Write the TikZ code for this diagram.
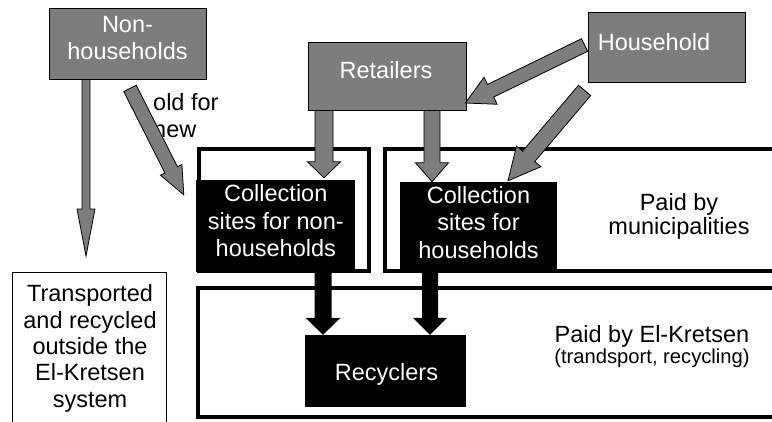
\documentclass[tikz,border=0pt]{standalone}
\usepackage{fontspec}
\setmainfont{Liberation Sans}
\usetikzlibrary{calc}
\definecolor{boxgray}{gray}{0.49}
\newcommand\fatarrow[6][]{%
  \coordinate (fab) at ($(#3)!#6!(#2)$);
  \path[#1] ($(#2)!#4!90:(#3)$) -- ($(fab)!#4!-90:(#2)$) -- ($(fab)!#5!-90:(#2)$) -- (#3) -- ($(fab)!#5!90:(#2)$) -- ($(fab)!#4!90:(#2)$) -- ($(#2)!#4!-90:(#3)$) -- cycle;}
\tikzset{
  graybox/.style={draw=black, line width=0.8bp, fill=boxgray, inner sep=0pt},
  blackbox/.style={fill=black, inner sep=0pt},
  frame/.style={draw=black, line width=4bp, inner sep=0pt},
  lbl/.style={inner sep=0pt, align=center, font=\fontsize{23.5bp}{27.5bp}\selectfont},
  wlbl/.style={lbl, text=white},
  grayarrow/.style={draw=black, line width=0.8bp, fill=boxgray},
  blackarrow/.style={fill=black}
}
\begin{document}
\begin{tikzpicture}[x=1bp,y=-1bp]
\useasboundingbox (0,0) rectangle (772,421);
\fill[white] (0,0) rectangle (772,421);
% region frames
\node[frame, minimum width=170bp, minimum height=122bp] (fr1) at (284,210) {};
\node[frame, minimum width=400bp, minimum height=122bp] (fr2) at (585,210) {};
\node[frame, minimum width=590bp, minimum height=129.5bp] (fr3) at (493.5,352.25) {};
\node[draw, line width=0.8bp, minimum width=154bp, minimum height=170bp, anchor=north, inner sep=0pt] (tr) at (89,272) {};
% boxes
\node[graybox, minimum width=157bp, minimum height=71bp] (nh) at (127.5,43.5) {};
\node[graybox, minimum width=158bp, minimum height=68bp] (ret) at (387,76) {};
\node[graybox, minimum width=157bp, minimum height=70bp] (hh) at (666.5,47) {};
\node[blackbox, minimum width=159bp, minimum height=92bp] (colnon) at (275.5,226) {};
\node[blackbox, minimum width=157bp, minimum height=91bp] (colhh) at (478.5,227.5) {};
\node[blackbox, minimum width=161bp, minimum height=72bp] (rec) at (385.5,371) {};
% texts
\node[wlbl, anchor=north] (nht) at (127.5,16) {Non-\\households};
\node[wlbl, anchor=base] (rett) at (386,78) {Retailers};
\node[wlbl, anchor=base] (hht) at (654,50) {Household};
\node[wlbl, anchor=north] (colnont) at (275.8,184.6) {Collection\\sites for non-\\households};
\node[wlbl, anchor=north] (colhht) at (478.5,186) {Collection\\sites for\\households};
\node[wlbl, anchor=base] (rect) at (386.5,380) {Recyclers};
\node[lbl, anchor=north west, align=left] (oldnew) at (153,93) {old for\\new};
\node[lbl, anchor=north, font=\fontsize{23.5bp}{24bp}\selectfont] (pm) at (679,193) {Paid by\\municipalities};
\node[lbl, anchor=base] (pe) at (652,342) {Paid by El-Kretsen};
\node[lbl, anchor=base, font=\fontsize{20.2bp}{22bp}\selectfont] (pe2) at (652,363) {(trandsport, recycling)};
\node[lbl, anchor=north, font=\fontsize{23.5bp}{26.3bp}\selectfont] (trt) at (90,284.6) {Transported\\and recycled\\outside the\\El-Kretsen\\system};
% connector end points
\coordinate (a1s) at ($(nh.south)+(-41.5,0)$);
\coordinate (a1e) at ($(tr.north)+(-3,-16)$);
\coordinate (a2s) at ($(nh.south)+(2.5,9)$);
\coordinate (a2e) at ($(colnon.north west)+(-12,15)$);
\coordinate (a3s) at ($(ret.south)+(-63,0)$);
\coordinate (a3e) at ($(colnon.north)+(48.5,-2)$);
\coordinate (a4s) at ($(ret.south)+(45,0)$);
\coordinate (a4e) at ($(colhh.north)+(-46.5,0)$);
\coordinate (a5s) at ($(hh.west)+(-3,-2)$);
\coordinate (a5e) at ($(ret.east)+(-1,27)$);
\coordinate (a6s) at ($(hh.south west)+(-3,8)$);
\coordinate (a6e) at ($(colhh.north)+(29.5,-1)$);
\coordinate (a7s) at ($(colnon.south)+(47.5,0)$);
\coordinate (a7e) at ($(rec.north)+(-62.5,0)$);
\coordinate (a8s) at ($(colhh.south)+(-48.5,0)$);
\coordinate (a8e) at ($(rec.north)+(44.5,0)$);
% connectors
\fatarrow[grayarrow]{a1s}{a1e}{4bp}{9bp}{47bp}
\fatarrow[grayarrow]{a2s}{a2e}{7bp}{12bp}{28bp}
\fatarrow[grayarrow]{a3s}{a3e}{9bp}{16.5bp}{16bp}
\fatarrow[grayarrow]{a4s}{a4e}{8bp}{16.5bp}{19bp}
\fatarrow[grayarrow]{a5s}{a5e}{7bp}{15bp}{28bp}
\fatarrow[grayarrow]{a6s}{a6e}{8bp}{16bp}{32bp}
\fatarrow[blackarrow]{a7s}{a7e}{8.5bp}{17.5bp}{17bp}
\fatarrow[blackarrow]{a8s}{a8e}{8bp}{17bp}{17bp}
\end{tikzpicture}
\end{document}
